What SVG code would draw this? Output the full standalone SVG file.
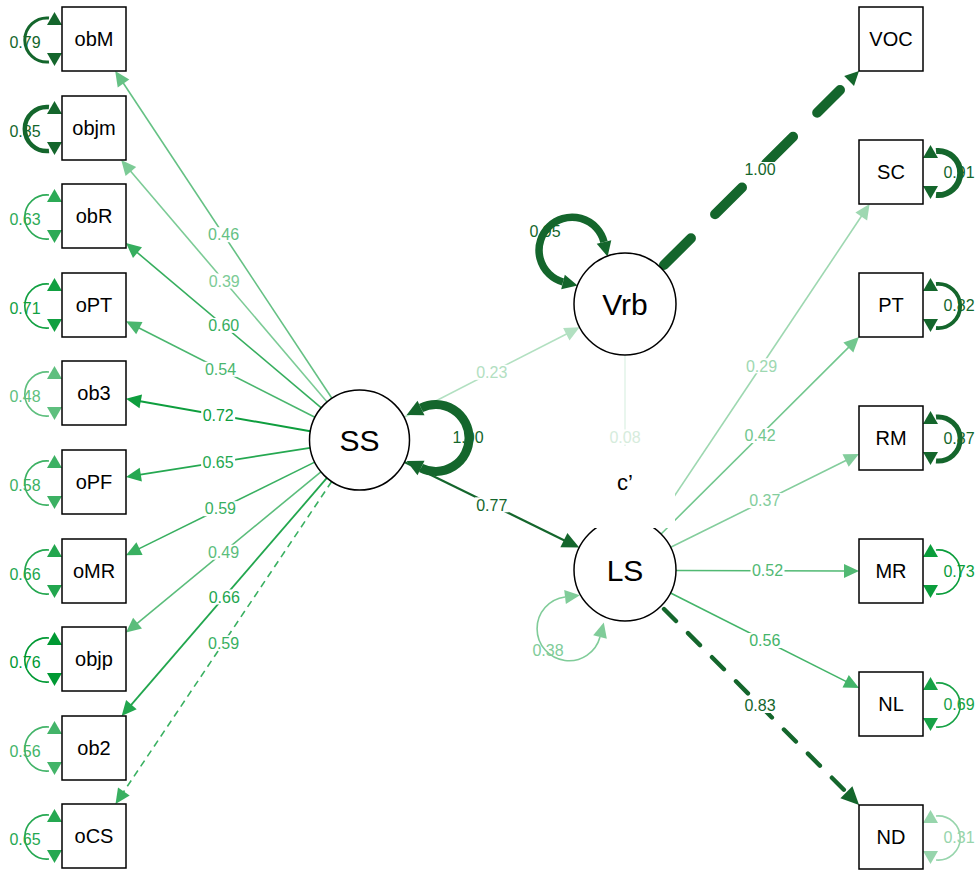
<svg xmlns="http://www.w3.org/2000/svg" xmlns:xlink="http://www.w3.org/1999/xlink" width="980" height="870" viewBox="0 0 980 870">
<style>
.box{fill:#fff;stroke:#000;stroke-width:1.5}
.nt{font-family:"Liberation Sans",Arial,sans-serif;font-size:20px;text-anchor:middle;fill:#000}
.lt{font-family:"Liberation Sans",Arial,sans-serif;font-size:30px;text-anchor:middle;fill:#000}
.el{font-family:"Liberation Sans",Arial,sans-serif;font-size:16px;text-anchor:middle}
.bg{fill:#fff}
.ln{fill:none}
.lp path{fill:none;stroke:currentColor}
.lp polygon{fill:currentColor;stroke:none}
</style>
<defs>
<g id="lpL" class="lp"><path d="M49,-21 A22.1,22.1 0 1 0 49,23"/><polygon points="47,-14 62,-14 54.5,-27"/><polygon points="47,14 62,14 54.5,27"/></g>
<g id="lpR" class="lp"><path d="M936,-21 A22.1,22.1 0 1 1 936,23"/><polygon points="923,-14 938,-14 930.5,-27"/><polygon points="923,14 938,14 930.5,27"/></g>
</defs>
<rect width="980" height="870" fill="#fff"/>
<g id="connectors">
<!-- SS loadings -->
<line class="ln" x1="331.9" y1="398.3" x2="122.4" y2="81.8" stroke="#65c184" stroke-width="1.6"/><polygon points="115.2,71 129.3,79.6 117.7,87.4" fill="#65c184"/>
<line class="ln" x1="327.1" y1="401.9" x2="129.6" y2="169.9" stroke="#7ccb96" stroke-width="1.6"/><polygon points="121.2,160 136.2,166.9 125.6,175.9" fill="#7ccb96"/>
<line class="ln" x1="321.3" y1="407.8" x2="135.9" y2="251.4" stroke="#36ae5e" stroke-width="1.6"/><polygon points="126,243 142,247.3 133,258" fill="#36ae5e"/>
<line class="ln" x1="314.9" y1="417.3" x2="137.6" y2="327.2" stroke="#4ab66e" stroke-width="1.6"/><polygon points="126,321.3 142.5,321.9 136.2,334.3" fill="#4ab66e"/>
<line class="ln" x1="310.3" y1="431.3" x2="138.8" y2="401" stroke="#0e9e3e" stroke-width="2"/><polygon points="126,398.7 142,394.4 139.5,408.2" fill="#0e9e3e"/>
<line class="ln" x1="310.1" y1="447.8" x2="138.8" y2="474.9" stroke="#25a851" stroke-width="1.8"/><polygon points="126,476.9 139.7,467.7 141.9,481.5" fill="#25a851"/>
<line class="ln" x1="314.7" y1="462.1" x2="137.7" y2="549.4" stroke="#39b061" stroke-width="1.6"/><polygon points="126,555.2 136.4,542.3 142.6,554.9" fill="#39b061"/>
<line class="ln" x1="320.9" y1="471.8" x2="136" y2="624.3" stroke="#5bbd7b" stroke-width="1.6"/><polygon points="126,632.6 133.1,617.7 142,628.5" fill="#5bbd7b"/>
<line class="ln" x1="326.9" y1="477.9" x2="130.1" y2="706.2" stroke="#22a64e" stroke-width="1.8"/><polygon points="121.6,716 126.1,700.1 136.7,709.2" fill="#22a64e"/>
<line class="ln" x1="331.7" y1="481.5" x2="122.7" y2="793.2" stroke="#39b061" stroke-width="1.6" stroke-dasharray="7,5"/><polygon points="115.5,804 118,787.6 129.7,795.4" fill="#39b061"/>
<!-- LS loadings -->
<line class="ln" x1="653.3" y1="527.6" x2="862.4" y2="214.8" stroke="#9ed8b1" stroke-width="1.6"/><polygon points="869.6,204 867.1,220.4 855.4,212.6" fill="#9ed8b1"/>
<line class="ln" x1="661.1" y1="534" x2="849.8" y2="346.1" stroke="#72c78e" stroke-width="1.6"/><polygon points="859,336.9 853.3,352.5 843.4,342.5" fill="#72c78e"/>
<line class="ln" x1="670.7" y1="547.3" x2="847.4" y2="459.7" stroke="#83cd9c" stroke-width="1.6"/><polygon points="859,453.9 848.7,466.8 842.5,454.3" fill="#83cd9c"/>
<line class="ln" x1="676" y1="570.5" x2="846" y2="571" stroke="#51b973" stroke-width="1.6"/><polygon points="859,571 844,578 844,564" fill="#51b973"/>
<line class="ln" x1="670.6" y1="593" x2="847.4" y2="682.1" stroke="#43b469" stroke-width="1.6"/><polygon points="859,687.9 842.5,687.4 848.8,674.9" fill="#43b469"/>
<line class="ln" x1="664" y1="609" x2="846.5" y2="792.4" stroke="#14662c" stroke-width="4.4" stroke-dasharray="17,17" stroke-linecap="round"/><polygon points="859.1,805 840.4,798.3 852.4,786.3" fill="#14662c"/>
<!-- structural -->
<line class="ln" x1="404" y1="417.2" x2="568" y2="333.2" stroke="#b2e0c1" stroke-width="1.6"/><polygon points="579.6,327.3 569.5,340.4 563.1,327.9" fill="#b2e0c1"/>
<line class="ln" x1="404.4" y1="462" x2="565.5" y2="540.9" stroke="#14662c" stroke-width="2.2"/><polygon points="579.2,547.6 560.4,547.3 567.4,532.9" fill="#14662c"/>
<line class="ln" x1="664" y1="265" x2="840" y2="90" stroke="#14662c" stroke-width="10" stroke-dasharray="38,34" stroke-linecap="round"/><polygon points="859,71 854,85.9 844.2,75.9" fill="#14662c"/>
<line class="ln" x1="625" y1="355" x2="625" y2="519" stroke="#e4f4ea" stroke-width="1.6"/>
<!-- residual loops boxes -->
<use xlink:href="#lpL" y="39" color="#14662c" stroke-width="3"/>
<use xlink:href="#lpL" y="128" color="#14662c" stroke-width="4.5"/>
<use xlink:href="#lpL" y="216" color="#2caa56" stroke-width="1.6"/>
<use xlink:href="#lpL" y="305" color="#11a041" stroke-width="1.6"/>
<use xlink:href="#lpL" y="393" color="#5ebf7e" stroke-width="1.6"/>
<use xlink:href="#lpL" y="482" color="#3cb163" stroke-width="1.6"/>
<use xlink:href="#lpL" y="571" color="#22a64e" stroke-width="1.6"/>
<use xlink:href="#lpL" y="659" color="#009933" stroke-width="1.6"/>
<use xlink:href="#lpL" y="748" color="#43b469" stroke-width="1.6"/>
<use xlink:href="#lpL" y="836" color="#25a851" stroke-width="1.6"/>
<use xlink:href="#lpR" y="172" color="#14662c" stroke-width="6"/>
<use xlink:href="#lpR" y="305" color="#14662c" stroke-width="3.8"/>
<use xlink:href="#lpR" y="438" color="#14662c" stroke-width="5"/>
<use xlink:href="#lpR" y="571" color="#0a9d3b" stroke-width="1.6"/>
<use xlink:href="#lpR" y="704" color="#17a246" stroke-width="1.6"/>
<use xlink:href="#lpR" y="837" color="#97d5ac" stroke-width="1.6"/>
<!-- latent loops -->
<path d="M421,408 A33.4,33.4 0 1 1 421,468" fill="none" stroke="#14662c" stroke-width="9"/>
<polygon points="406.6,415 417.5,400.8 424.5,415.2" fill="#14662c"/>
<polygon points="406.6,461 424.5,460.8 417.5,475.2" fill="#14662c"/>
<path d="M604,242 A33,33 0 1 0 563,282" fill="none" stroke="#14662c" stroke-width="7.5"/>
<polygon points="607.6,256.6 596.7,243.8 611.3,240.2" fill="#14662c"/>
<polygon points="577.6,285.6 561.2,289.3 564.8,274.7" fill="#14662c"/>
<path d="M565,597 A32,32 0 1 0 600,637" fill="none" stroke="#80cc99" stroke-width="1.6"/>
<polygon points="579.9,595.2 565.9,604 564.2,590.1" fill="#80cc99"/>
<polygon points="603.8,622.5 606.8,638.8 593.2,635.3" fill="#80cc99"/>
</g>
<g id="edge-labels">
<g class="bg">
<rect x="206.6" y="227.2" width="34" height="15"/><rect x="207.2" y="273.5" width="34" height="15"/><rect x="206.7" y="317.9" width="34" height="15"/><rect x="203.5" y="361.8" width="34" height="15"/><rect x="201.2" y="407.5" width="34" height="15"/><rect x="201.1" y="454.9" width="34" height="15"/><rect x="203.4" y="501.2" width="34" height="15"/><rect x="206.5" y="544.7" width="34" height="15"/><rect x="207.3" y="589.5" width="34" height="15"/><rect x="206.6" y="635.3" width="34" height="15"/>
<rect x="744.5" y="358.3" width="34" height="15"/><rect x="743.1" y="428" width="34" height="15"/><rect x="747.8" y="493.1" width="34" height="15"/><rect x="750.5" y="563" width="34" height="15"/><rect x="747.8" y="633" width="34" height="15"/><rect x="743" y="698" width="34" height="15"/>
<rect x="474.8" y="364.8" width="34" height="15"/><rect x="474.8" y="497.3" width="34" height="15"/><rect x="743" y="162" width="34" height="15"/><rect x="608" y="429.5" width="34" height="15"/>
</g>
<text class="el" x="223.6" y="240.4" fill="#65c184">0.46</text>
<text class="el" x="224.2" y="286.7" fill="#7ccb96">0.39</text>
<text class="el" x="223.7" y="331.1" fill="#36ae5e">0.60</text>
<text class="el" x="220.5" y="375" fill="#4ab66e">0.54</text>
<text class="el" x="218.2" y="420.7" fill="#0e9e3e">0.72</text>
<text class="el" x="218.1" y="468.1" fill="#25a851">0.65</text>
<text class="el" x="220.4" y="514.4" fill="#39b061">0.59</text>
<text class="el" x="223.5" y="557.9" fill="#5bbd7b">0.49</text>
<text class="el" x="224.3" y="602.7" fill="#22a64e">0.66</text>
<text class="el" x="223.6" y="648.5" fill="#39b061">0.59</text>
<text class="el" x="761.5" y="371.5" fill="#9ed8b1">0.29</text>
<text class="el" x="760.1" y="441.2" fill="#72c78e">0.42</text>
<text class="el" x="764.8" y="506.3" fill="#83cd9c">0.37</text>
<text class="el" x="767.5" y="576.2" fill="#51b973">0.52</text>
<text class="el" x="764.8" y="646.2" fill="#43b469">0.56</text>
<text class="el" x="760" y="711.2" fill="#14662c">0.83</text>
<text class="el" x="491.8" y="378" fill="#b2e0c1">0.23</text>
<text class="el" x="491.8" y="510.5" fill="#14662c">0.77</text>
<text class="el" x="760" y="175.2" fill="#14662c">1.00</text>
<text class="el" x="625" y="442.7" fill="#d6ecdc">0.08</text>
<text class="el" x="25" y="47.7" fill="#14662c">0.79</text>
<text class="el" x="25" y="136.7" fill="#14662c">0.85</text>
<text class="el" x="25" y="224.7" fill="#2caa56">0.63</text>
<text class="el" x="25" y="313.7" fill="#11a041">0.71</text>
<text class="el" x="25" y="401.7" fill="#5ebf7e">0.48</text>
<text class="el" x="25" y="490.7" fill="#3cb163">0.58</text>
<text class="el" x="25" y="579.7" fill="#22a64e">0.66</text>
<text class="el" x="25" y="667.7" fill="#009933">0.76</text>
<text class="el" x="25" y="756.7" fill="#43b469">0.56</text>
<text class="el" x="25" y="844.7" fill="#25a851">0.65</text>
<text class="el" x="959" y="177.7" fill="#14662c">0.91</text>
<text class="el" x="959" y="310.7" fill="#14662c">0.82</text>
<text class="el" x="959" y="443.7" fill="#14662c">0.87</text>
<text class="el" x="959" y="576.7" fill="#0a9d3b">0.73</text>
<text class="el" x="959" y="709.7" fill="#17a246">0.69</text>
<text class="el" x="959" y="842.7" fill="#97d5ac">0.31</text>
<text class="el" x="468" y="442.7" fill="#14662c">1.00</text>
<text class="el" x="545" y="236.7" fill="#14662c">0.95</text>
<text class="el" x="548" y="655.7" fill="#80cc99">0.38</text>
</g>
<g id="node-obM"><rect class="box" x="62" y="7" width="64" height="64"/><text class="nt" x="94" y="46">obM</text></g>
<g id="node-objm"><rect class="box" x="62" y="96" width="64" height="64"/><text class="nt" x="94" y="135">objm</text></g>
<g id="node-obR"><rect class="box" x="62" y="184" width="64" height="64"/><text class="nt" x="94" y="223">obR</text></g>
<g id="node-oPT"><rect class="box" x="62" y="273" width="64" height="64"/><text class="nt" x="94" y="312">oPT</text></g>
<g id="node-ob3"><rect class="box" x="62" y="361" width="64" height="64"/><text class="nt" x="94" y="400">ob3</text></g>
<g id="node-oPF"><rect class="box" x="62" y="450" width="64" height="64"/><text class="nt" x="94" y="489">oPF</text></g>
<g id="node-oMR"><rect class="box" x="62" y="539" width="64" height="64"/><text class="nt" x="94" y="578">oMR</text></g>
<g id="node-objp"><rect class="box" x="62" y="627" width="64" height="64"/><text class="nt" x="94" y="666">objp</text></g>
<g id="node-ob2"><rect class="box" x="62" y="716" width="64" height="64"/><text class="nt" x="94" y="755">ob2</text></g>
<g id="node-oCS"><rect class="box" x="62" y="804" width="64" height="64"/><text class="nt" x="94" y="843">oCS</text></g>
<g id="node-VOC"><rect class="box" x="859" y="7" width="64" height="64"/><text class="nt" x="891" y="46">VOC</text></g>
<g id="node-SC"><rect class="box" x="859" y="140" width="64" height="64"/><text class="nt" x="891" y="179">SC</text></g>
<g id="node-PT"><rect class="box" x="859" y="273" width="64" height="64"/><text class="nt" x="891" y="312">PT</text></g>
<g id="node-RM"><rect class="box" x="859" y="406" width="64" height="64"/><text class="nt" x="891" y="445">RM</text></g>
<g id="node-MR"><rect class="box" x="859" y="539" width="64" height="64"/><text class="nt" x="891" y="578">MR</text></g>
<g id="node-NL"><rect class="box" x="859" y="672" width="64" height="64"/><text class="nt" x="891" y="711">NL</text></g>
<g id="node-ND"><rect class="box" x="859" y="805" width="64" height="64"/><text class="nt" x="891" y="844">ND</text></g>
<g id="node-SS"><circle class="box" cx="359.5" cy="440" r="50"/><text class="lt" x="359.5" y="450.7">SS</text></g>
<g id="node-Vrb"><circle class="box" cx="625" cy="304" r="51"/><text class="lt" x="625" y="314.7">Vrb</text></g>
<g id="node-LS"><circle class="box" cx="625" cy="570" r="51"/><text class="lt" x="625" y="580.7">LS</text></g>
<g id="label-c"><rect class="bg" x="577" y="446" width="98" height="82"/><text class="nt" x="625" y="490" style="font-size:22px">c’</text></g>
</svg>
